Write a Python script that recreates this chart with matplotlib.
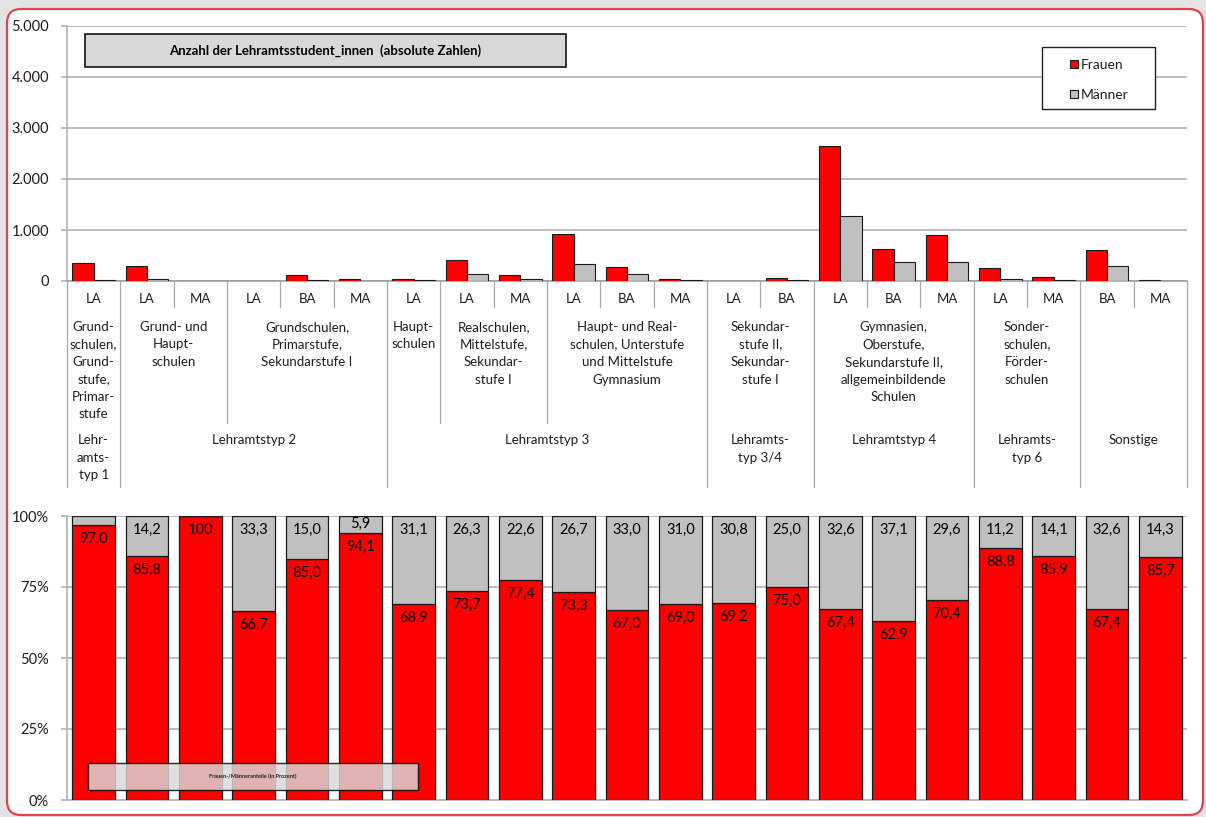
import matplotlib
matplotlib.use('Agg')
import matplotlib.pyplot as plt
from matplotlib.patches import Rectangle, FancyBboxPatch
from matplotlib.transforms import blended_transform_factory
from matplotlib.ticker import FuncFormatter

plt.rcParams['font.family'] = ['Lato', 'DejaVu Sans']

W, H = 1206, 817

# Abschlussart je Kategorie (erste Achsenebene)
abschluss = ['LA', 'LA', 'MA', 'LA', 'BA', 'MA', 'LA', 'LA', 'MA', 'LA', 'BA', 'MA',
             'LA', 'BA', 'LA', 'BA', 'MA', 'LA', 'MA', 'BA', 'MA']

# absolute Zahlen (aus der Grafik geschaetzt)
frauen_abs = [355, 290, 8, 4, 111, 32, 40, 406, 111, 915, 281, 30, 9, 50,
              2647, 621, 895, 248, 72, 601, 12]
maenner_abs = [11, 48, 0, 2, 20, 2, 18, 145, 32, 333, 138, 13, 4, 17,
               1281, 366, 376, 31, 12, 291, 2]

# Anteile in Prozent
frauen_pct = [97.0, 85.8, 100, 66.7, 85.0, 94.1, 68.9, 73.7, 77.4, 73.3, 67.0,
              69.0, 69.2, 75.0, 67.4, 62.9, 70.4, 88.8, 85.9, 67.4, 85.7]
maenner_pct = [3.0, 14.2, 0, 33.3, 15.0, 5.9, 31.1, 26.3, 22.6, 26.7, 33.0,
               31.0, 30.8, 25.0, 32.6, 37.1, 29.6, 11.2, 14.1, 32.6, 14.3]

# Schulform (zweite Ebene): Text, erste Kategorie, Anzahl
schulform = [
    ('Grund-\nschulen,\nGrund-\nstufe,\nPrimar-\nstufe', 0, 1),
    ('Grund- und\nHaupt-\nschulen', 1, 2),
    ('Grundschulen,\nPrimarstufe,\nSekundarstufe I', 3, 3),
    ('Haupt-\nschulen', 6, 1),
    ('Realschulen,\nMittelstufe,\nSekundar-\nstufe I', 7, 2),
    ('Haupt- und Real-\nschulen, Unterstufe\nund Mittelstufe\nGymnasium', 9, 3),
    ('Sekundar-\nstufe II,\nSekundar-\nstufe I', 12, 2),
    ('Gymnasien,\nOberstufe,\nSekundarstufe II,\nallgemeinbildende\nSchulen', 14, 3),
    ('Sonder-\nschulen,\nFörder-\nschulen', 17, 2),
    ('', 19, 2),
]

# Lehramtstyp (dritte Ebene)
lehramtstyp = [
    ('Lehr-\namts-\ntyp 1', 0, 1),
    ('Lehramtstyp 2', 1, 5),
    ('Lehramtstyp 3', 6, 6),
    ('Lehramts-\ntyp 3/4', 12, 2),
    ('Lehramtstyp 4', 14, 3),
    ('Lehramts-\ntyp 6', 17, 2),
    ('Sonstige', 19, 2),
]

RED = '#ff0000'
GREY = '#c0c0c0'
EDGE = '#1a1a1a'
GRID = '#b8b8b8'
SEP = '#a8a8a8'
TXT = '#1e1e1e'


def fx(px):
    return px / W


def fy(py):
    return 1 - py / H


fig = plt.figure(figsize=(W / 100, H / 100), dpi=100, facecolor='#e4e4e4')


def rect_px(x0, y0, x1, y1, **kw):
    r = Rectangle((fx(x0), fy(y1)), fx(x1) - fx(x0), (y1 - y0) / H,
                  transform=fig.transFigure, **kw)
    fig.add_artist(r)
    return r


# weisser Rahmen mit roter Linie
frame = FancyBboxPatch((7 / 100, (H - 815) / 100), (1203 - 7) / 100, (815 - 9) / 100,
                       boxstyle='round,pad=0,rounding_size=0.14',
                       transform=fig.dpi_scale_trans, facecolor='white',
                       edgecolor='#e2434b', lw=1.6, zorder=-5)
fig.add_artist(frame)

n = len(abschluss)
x = list(range(n))

# ---- oberes Diagramm: absolute Zahlen ----
ax1 = fig.add_axes([fx(67), fy(281), fx(1187) - fx(67), (281 - 26) / H])
ax1.set_facecolor('none')
ax1.bar([i - 0.2 for i in x], frauen_abs, 0.4, color=RED, edgecolor=EDGE, lw=0.8, zorder=3)
ax1.bar([i + 0.2 for i in x], maenner_abs, 0.4, color=GREY, edgecolor=EDGE, lw=0.8, zorder=3)
ax1.set_xlim(-0.5, n - 0.5)
ax1.set_ylim(0, 5000)
ax1.set_yticks(range(0, 5001, 1000))
ax1.yaxis.set_major_formatter(FuncFormatter(lambda v, p: f'{v:,.0f}'.replace(',', '.')))
ax1.yaxis.grid(True, color=GRID, lw=1.3)
ax1.set_axisbelow(True)
ax1.set_xticks([])
for s in ['top', 'right']:
    ax1.spines[s].set_visible(False)
ax1.spines['left'].set_color(GRID)
ax1.spines['left'].set_linewidth(1.3)
ax1.spines['bottom'].set_color('#9a9a9a')
ax1.spines['bottom'].set_linewidth(1.1)
ax1.tick_params(axis='y', length=4, color=GRID, width=1.3, labelsize=10.5,
                labelcolor=TXT, pad=9)

tr = blended_transform_factory(ax1.transData, fig.transFigure)
for i, lab in enumerate(abschluss):
    ax1.text(i, fy(299), lab, transform=tr, ha='center', va='center',
             fontsize=9.5, color=TXT, clip_on=False)
for lab, s, k in schulform:
    ax1.text(s + (k - 1) / 2, fy(321), lab, transform=tr, ha='center', va='top',
             fontsize=9.5, color=TXT, linespacing=1.55, multialignment='center',
             clip_on=False)
for lab, s, k in lehramtstyp:
    ax1.text(s + (k - 1) / 2, fy(434), lab, transform=tr, ha='center', va='top',
             fontsize=9.5, color=TXT, linespacing=1.55, multialignment='center',
             clip_on=False)

lt_bounds = {s for _, s, _ in lehramtstyp} | {n}
sf_bounds = {s for _, s, _ in schulform} | lt_bounds
for k in range(n + 1):
    if k in lt_bounds:
        y_end = 487
    elif k in sf_bounds:
        y_end = 423
    else:
        y_end = 307
    ax1.plot([k - 0.5, k - 0.5], [fy(281), fy(y_end)], transform=tr,
             color=SEP, lw=0.9, clip_on=False)

# Titelkasten
rect_px(85, 34, 566, 67, facecolor='#d9d9d9', edgecolor='black', lw=1.1, zorder=5)
fig.text(fx(325.5), fy(51), 'Anzahl der Lehramtsstudent_innen  (absolute Zahlen)',
         ha='center', va='center', fontsize=9.5, fontweight='bold', color='black', zorder=6)

# Legende
rect_px(1042, 47, 1155, 109, facecolor='white', edgecolor='#222222', lw=1.0, zorder=5)
for (lab, col, yc) in [('Frauen', RED, 64), ('Männer', GREY, 94)]:
    rect_px(1069.5, yc - 4, 1078, yc + 4, facecolor=col, edgecolor=EDGE, lw=0.8, zorder=6)
    fig.text(fx(1081), fy(yc + 1), lab, ha='left', va='center', fontsize=10,
             color=TXT, zorder=6)

# ---- unteres Diagramm: Anteile in Prozent ----
ax2 = fig.add_axes([fx(67), fy(800), fx(1187) - fx(67), (800 - 516) / H])
ax2.set_facecolor('none')
ax2.bar(x, frauen_pct, 0.8, color=RED, edgecolor=EDGE, lw=0.9, zorder=3)
ax2.bar(x, maenner_pct, 0.8, bottom=frauen_pct, color=GREY, edgecolor=EDGE, lw=0.9, zorder=3)
ax2.set_xlim(-0.5, n - 0.5)
ax2.set_ylim(0, 100)
ax2.set_yticks([0, 25, 50, 75, 100])
ax2.yaxis.set_major_formatter(FuncFormatter(lambda v, p: f'{v:.0f}%'))
ax2.yaxis.grid(True, color=GRID, lw=1.3)
ax2.set_axisbelow(True)
ax2.set_xticks([])
for s in ['top', 'right']:
    ax2.spines[s].set_visible(False)
ax2.spines['left'].set_color(GRID)
ax2.spines['left'].set_linewidth(1.3)
ax2.spines['bottom'].set_color(GRID)
ax2.spines['bottom'].set_linewidth(1.3)
ax2.tick_params(axis='y', length=4, color=GRID, width=1.3, labelsize=10.5,
                labelcolor=TXT, pad=9)


def fmt(v):
    if v >= 100:
        return '100'
    return f'{v:.1f}'.replace('.', ',')


for i in x:
    f = frauen_pct[i]
    m = maenner_pct[i]
    if f > 0:
        ax2.text(i, f - min(4.9, f / 2), fmt(f), ha='center', va='center',
                 fontsize=10.5, color='black', zorder=4)
    if m >= 5:
        ax2.text(i, f + m - min(4.9, m / 2), fmt(m), ha='center', va='center',
                 fontsize=10.5, color='black', zorder=4)

# Kasten unten
rect_px(88, 763, 418, 790, facecolor='#d9d9d9', alpha=0.83, edgecolor='black', lw=1.0, zorder=5)
fig.text(fx(253), fy(776.5), 'Frauen-/Männeranteile (in Prozent)', ha='center', va='center',
         fontsize=4, fontweight='bold', color='#222222', zorder=6)

fig.savefig('out.png', dpi=100, facecolor=fig.get_facecolor())
